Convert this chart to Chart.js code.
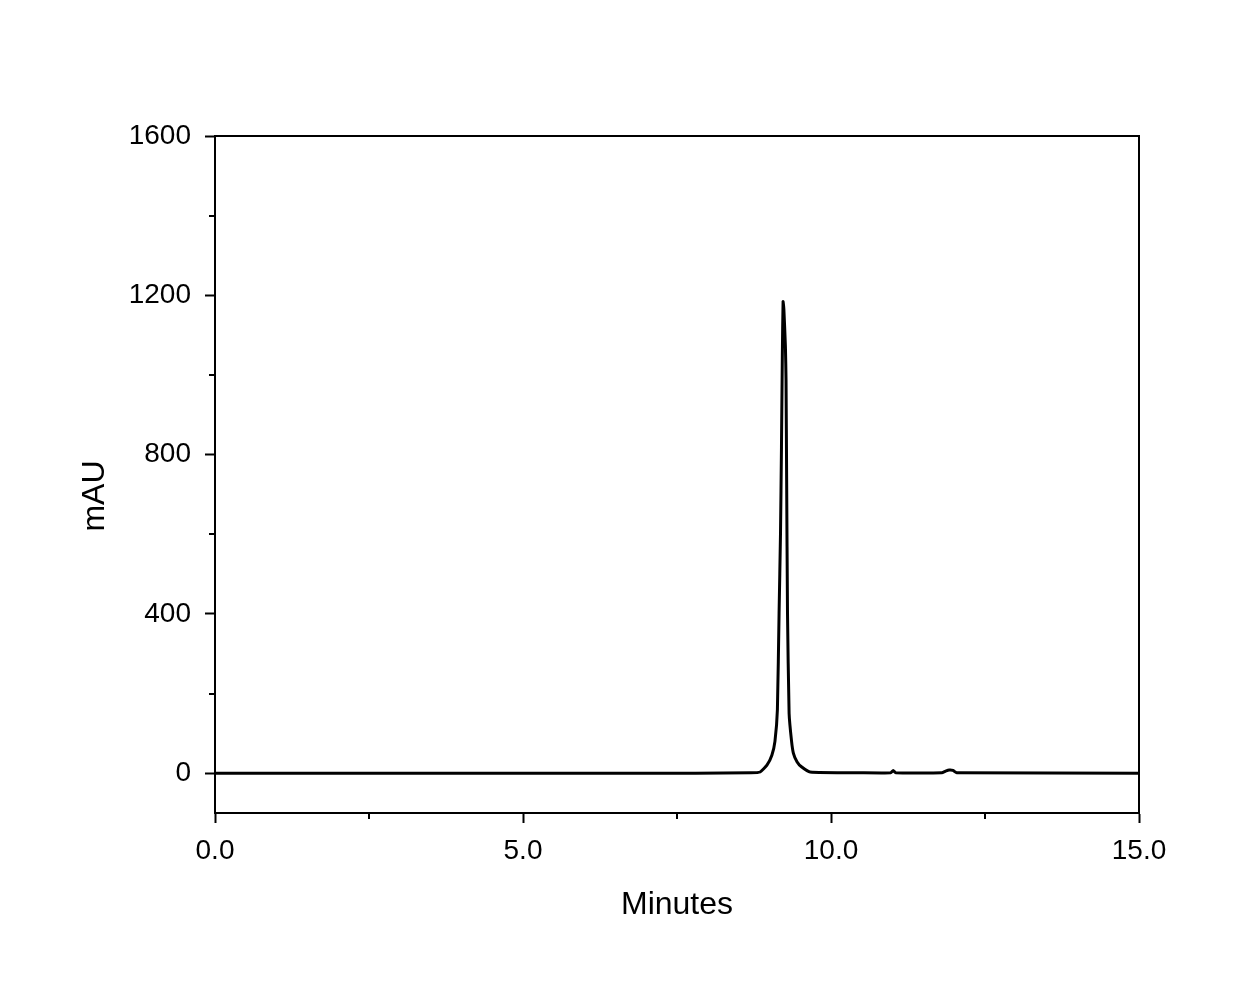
<!DOCTYPE html>
<html>
<head>
<meta charset="utf-8">
<script src="https://cdn.jsdelivr.net/npm/chart.js@4/dist/chart.umd.min.js"></script>
<style>
  html, body { margin: 0; padding: 0; background: #fff; }
  #wrap { width: 1241px; height: 994px; position: relative; }
</style>
</head>
<body>
<div id="wrap"><canvas id="c" width="1241" height="994"></canvas></div>
<script>
// Chromatogram trace (minutes, mAU)
const timeMin = [0, 7.8, 8.7, 8.85, 8.96, 9.04, 9.09, 9.13, 9.157, 9.18, 9.196, 9.21, 9.222, 9.235, 9.26, 9.27, 9.28, 9.294, 9.32, 9.36, 9.39, 9.45, 9.52, 9.66, 10.5, 10.97, 11.01, 11.05, 11.8, 11.86, 11.92, 11.98, 12.04, 15];
const signalMAU = [0, 0, 1, 3, 20, 45, 80, 160, 401, 600, 819, 1050, 1184, 1165, 1071, 987, 736, 401, 150, 80, 50, 28, 16, 3, 1, 1, 7, 1, 1, 5, 8, 7, 1, 0];

const xMajorTicks = [0, 5, 10, 15];
const xMinorTicks = [2.5, 7.5, 12.5];
const yMajorTicks = [0, 400, 800, 1200, 1600];
const yMinorTicks = [200, 600, 1000, 1400];
const xTitle = 'Minutes';
const yTitle = 'mAU';

const points = timeMin.map((t, i) => ({ x: t, y: signalMAU[i] }));

const FONT = "'Liberation Sans', Arial, sans-serif";

const framePlugin = {
  id: 'frame',
  afterDraw(chart) {
    const { ctx, chartArea: a, scales } = chart;
    ctx.save();
    ctx.strokeStyle = '#000';
    ctx.lineWidth = 2;
    ctx.strokeRect(a.left, a.top, a.right - a.left, a.bottom - a.top);
    // minor ticks
    ctx.beginPath();
    xMinorTicks.forEach(v => {
      const px = Math.round(scales.x.getPixelForValue(v));
      ctx.moveTo(px, a.bottom);
      ctx.lineTo(px, a.bottom + 6);
    });
    yMinorTicks.forEach(v => {
      const py = Math.round(scales.y.getPixelForValue(v));
      ctx.moveTo(a.left, py);
      ctx.lineTo(a.left - 6, py);
    });
    ctx.stroke();
    // y axis title
    ctx.fillStyle = '#000';
    ctx.font = "32px " + FONT;
    ctx.textAlign = 'center';
    ctx.textBaseline = 'middle';
    ctx.translate(95, 496);
    ctx.rotate(-Math.PI / 2);
    ctx.fillText(yTitle, 0, 0);
    ctx.restore();
  }
};

new Chart(document.getElementById('c'), {
  type: 'scatter',
  data: {
    datasets: [{
      data: points,
      showLine: true,
      borderColor: '#000',
      borderWidth: 3,
      pointRadius: 0,
      tension: 0.15,
      fill: false
    }]
  },
  options: {
    responsive: false,
    animation: false,
    devicePixelRatio: 1,
    layout: { padding: { left: 0, right: 102, top: 136, bottom: 0 } },
    plugins: { legend: { display: false }, tooltip: { enabled: false } },
    scales: {
      x: {
        type: 'linear',
        min: 0, max: 15,
        afterBuildTicks: s => { s.ticks = xMajorTicks.map(v => ({ value: v })); },
        afterFit: s => { s.height = 181; },
        ticks: {
          color: '#000',
          font: { family: FONT, size: 28 },
          padding: 11,
          maxRotation: 0,
          autoSkip: false,
          callback: v => Number(v).toFixed(1)
        },
        grid: { drawOnChartArea: false, drawTicks: true, tickLength: 10, tickColor: '#000', tickWidth: 2 },
        border: { color: '#000', width: 2 },
        title: {
          display: true, text: xTitle, color: '#000',
          font: { family: FONT, size: 32 },
          padding: { top: 0, bottom: 70 }
        }
      },
      y: {
        type: 'linear',
        min: -100, max: 1600,
        afterBuildTicks: s => { s.ticks = yMajorTicks.map(v => ({ value: v })); },
        afterFit: s => { s.width = 215; },
        ticks: {
          color: '#000',
          font: { family: FONT, size: 28 },
          padding: 14,
          autoSkip: false,
          callback: v => String(v)
        },
        grid: { drawOnChartArea: false, drawTicks: true, tickLength: 10, tickColor: '#000', tickWidth: 2 },
        border: { color: '#000', width: 2 },
        title: { display: false }
      }
    }
  },
  plugins: [framePlugin]
});
</script>
</body>
</html>
